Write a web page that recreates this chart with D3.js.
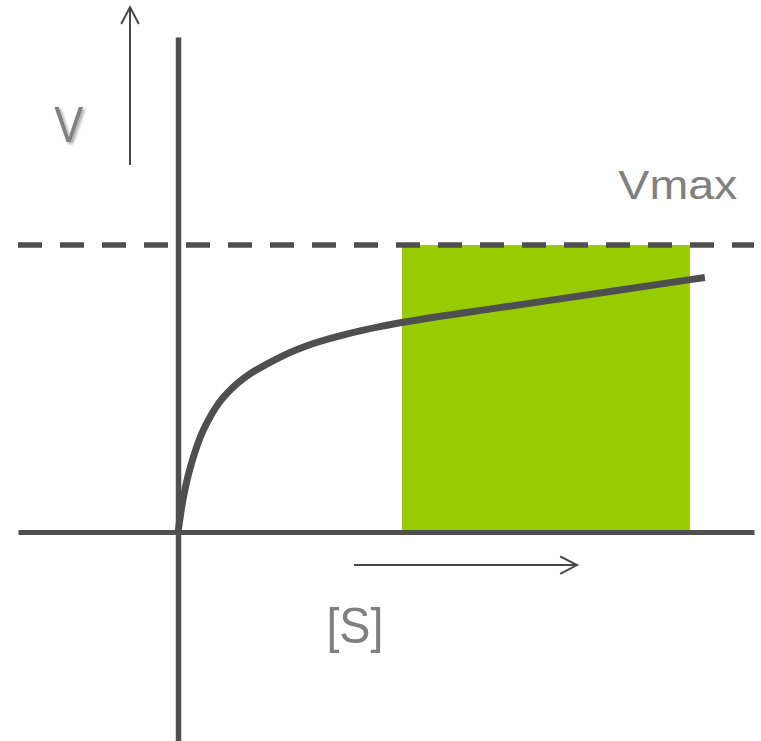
<!DOCTYPE html>
<html>
<head>
<meta charset="utf-8">
<script src="https://cdn.jsdelivr.net/npm/d3@7"></script>
<style>
  html, body { margin: 0; padding: 0; background: #ffffff; }
  svg { display: block; }
  text { font-family: "Liberation Sans", Arial, Helvetica, sans-serif; fill: #808080; }
</style>
</head>
<body>
<svg id="chart" width="761" height="741"></svg>
<script>
// ---- data ----
const substrate = [0, 0.38, 0.75, 1.13, 1.70, 2.40, 3.08, 4.21, 5.72, 7.30, 10.43, 13.58, 16.74, 19.87, 25.53, 31.83, 38.11, 43.15, 60.75, 79.62, 99.43];
const velocity  = [0, 0.049, 0.094, 0.132, 0.181, 0.230, 0.272, 0.331, 0.390, 0.439, 0.505, 0.551, 0.585, 0.615, 0.657, 0.690, 0.716, 0.733, 0.782, 0.833, 0.887];
const vmax = 1.0;
const highlightRange = [42.26, 96.6];   // shaded [S] range
const labels = { y: "V", x: "[S]", vmax: "Vmax" };

// ---- scales ----
const x = d3.scaleLinear().domain([-30.2, 108.7]).range([18, 754]);
const y = d3.scaleLinear().domain([-0.728, 1.725]).range([741, 37]);

const svg = d3.select("#chart");
const ink = "#4f4f4f";

// shadow filter for the V label
const defs = svg.append("defs");
const f = defs.append("filter").attr("id", "shadow").attr("x", "-50%").attr("y", "-50%").attr("width", "200%").attr("height", "200%");
f.append("feDropShadow").attr("dx", 2).attr("dy", 2).attr("stdDeviation", 1.5)
  .attr("flood-color", "#000").attr("flood-opacity", 0.35);

// highlighted region
svg.append("rect")
  .attr("x", x(highlightRange[0]))
  .attr("y", y(vmax))
  .attr("width", x(highlightRange[1]) - x(highlightRange[0]))
  .attr("height", y(0) - y(vmax))
  .attr("fill", "#99cc00");

// axes (plain lines, no ticks)
const xAxis = d3.axisBottom(x).tickValues([]).tickSizeOuter(0);
const yAxis = d3.axisLeft(y).tickValues([]).tickSizeOuter(0);
svg.append("g").attr("transform", `translate(0,${y(0)})`).call(xAxis)
  .call(g => g.select(".domain").attr("stroke", ink).attr("stroke-width", 5));
svg.append("g").attr("transform", `translate(${x(0)},0)`).call(yAxis)
  .call(g => g.select(".domain").attr("stroke", ink).attr("stroke-width", 5.5));

// Vmax dashed line
svg.append("line")
  .attr("x1", x.range()[0]).attr("x2", x.range()[1])
  .attr("y1", y(vmax)).attr("y2", y(vmax))
  .attr("stroke", ink).attr("stroke-width", 5.5)
  .attr("stroke-dasharray", "24 18");

// curve
const pts = substrate.map((s, i) => [s, velocity[i]]);
const line = d3.line().x(d => x(d[0])).y(d => y(d[1])).curve(d3.curveMonotoneX);
svg.append("path")
  .attr("d", line(pts))
  .attr("fill", "none")
  .attr("stroke", ink)
  .attr("stroke-width", 7);

// arrows
const arrowInk = "#474747";
function arrow(x1, y1, x2, y2) {
  const X1 = x(x1), Y1 = y(y1), X2 = x(x2), Y2 = y(y2);
  const ang = Math.atan2(Y2 - Y1, X2 - X1);
  const len = 19, spread = 0.48;
  const g = svg.append("g").attr("stroke", arrowInk).attr("stroke-width", 2).attr("fill", "none");
  g.append("line").attr("x1", X1).attr("y1", Y1).attr("x2", X2).attr("y2", Y2);
  g.append("path").attr("d",
    `M${X2 - len * Math.cos(ang - spread)},${Y2 - len * Math.sin(ang - spread)}L${X2},${Y2}L${X2 - len * Math.cos(ang + spread)},${Y2 - len * Math.sin(ang + spread)}`);
}
arrow(-9.06, 1.279, -9.06, 1.829);
arrow(33.2, -0.115, 75.3, -0.115);

// labels
svg.append("text")
  .attr("x", x(-20.6)).attr("y", y(1.359))
  .attr("text-anchor", "middle")
  .attr("font-size", 50)
  .attr("textLength", 29).attr("lengthAdjust", "spacingAndGlyphs")
  .attr("filter", "url(#shadow)")
  .text(labels.y);

svg.append("text")
  .attr("x", x(83.1)).attr("y", y(1.159))
  .attr("font-size", 40)
  .attr("textLength", 119).attr("lengthAdjust", "spacingAndGlyphs")
  .text(labels.vmax);

svg.append("text")
  .attr("x", x(28.0)).attr("y", y(-0.387))
  .attr("font-size", 50)
  .attr("textLength", 57).attr("lengthAdjust", "spacingAndGlyphs")
  .text(labels.x);
</script>
</body>
</html>
